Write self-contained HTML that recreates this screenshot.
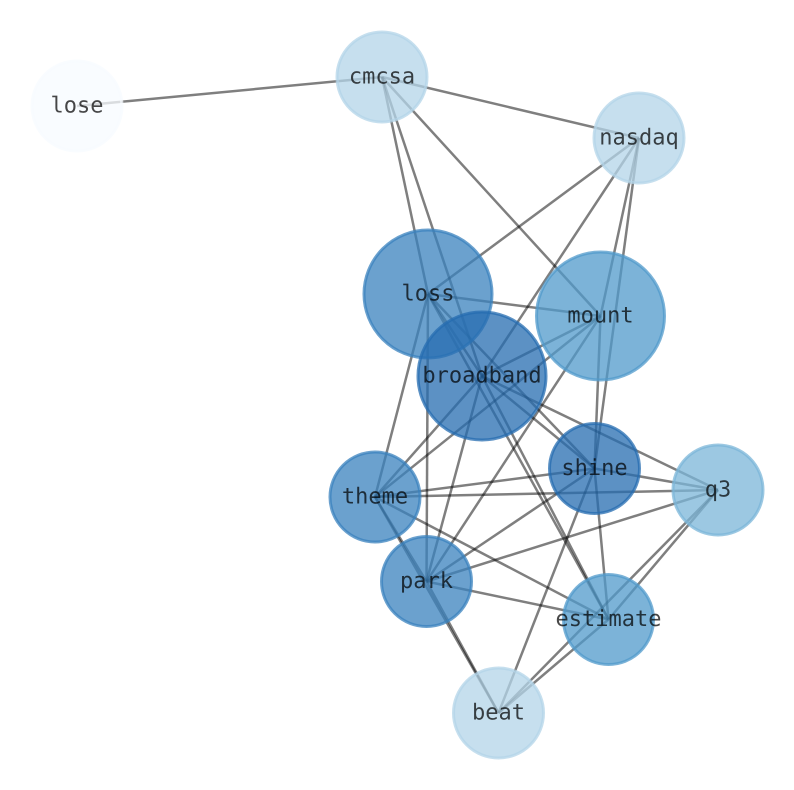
<!DOCTYPE html>
<html>
<head>
<meta charset="utf-8">
<style>
html,body{margin:0;padding:0;background:#fff;width:794px;height:790px;overflow:hidden}
svg{display:block}
text{font-family:"DejaVu Sans Mono","Liberation Mono",monospace;font-size:22px;fill:#000;fill-opacity:.72;text-anchor:middle;dominant-baseline:central;text-rendering:geometricPrecision}
.e line{stroke:#000;stroke-opacity:.5;stroke-width:2.5}
.n circle{fill-opacity:.75;stroke-opacity:.75;stroke-width:3}
</style>
</head>
<body>
<svg width="794" height="790" viewBox="0 0 794 790" xmlns="http://www.w3.org/2000/svg">
<g class="e">
<line x1="77" y1="106" x2="382" y2="77"/>
<line x1="382" y1="77" x2="639" y2="138"/>
<line x1="382" y1="77" x2="428" y2="294"/>
<line x1="382" y1="77" x2="482" y2="376"/>
<line x1="382" y1="77" x2="600.5" y2="316"/>
<line x1="639" y1="138" x2="428" y2="294"/>
<line x1="639" y1="138" x2="482" y2="376"/>
<line x1="639" y1="138" x2="600.5" y2="316"/>
<line x1="639" y1="138" x2="594.5" y2="468.5"/>
<line x1="428" y1="294" x2="600.5" y2="316"/>
<line x1="428" y1="294" x2="482" y2="376"/>
<line x1="428" y1="294" x2="375" y2="497"/>
<line x1="428" y1="294" x2="426.5" y2="581.5"/>
<line x1="428" y1="294" x2="594.5" y2="468.5"/>
<line x1="428" y1="294" x2="608.5" y2="619.5"/>
<line x1="600.5" y1="316" x2="482" y2="376"/>
<line x1="600.5" y1="316" x2="375" y2="497"/>
<line x1="600.5" y1="316" x2="426.5" y2="581.5"/>
<line x1="600.5" y1="316" x2="594.5" y2="468.5"/>
<line x1="482" y1="376" x2="375" y2="497"/>
<line x1="482" y1="376" x2="426.5" y2="581.5"/>
<line x1="482" y1="376" x2="594.5" y2="468.5"/>
<line x1="482" y1="376" x2="718" y2="490"/>
<line x1="482" y1="376" x2="608.5" y2="619.5"/>
<line x1="594.5" y1="468.5" x2="718" y2="490"/>
<line x1="594.5" y1="468.5" x2="375" y2="497"/>
<line x1="594.5" y1="468.5" x2="426.5" y2="581.5"/>
<line x1="594.5" y1="468.5" x2="608.5" y2="619.5"/>
<line x1="594.5" y1="468.5" x2="498.5" y2="713"/>
<line x1="718" y1="490" x2="375" y2="497"/>
<line x1="718" y1="490" x2="426.5" y2="581.5"/>
<line x1="718" y1="490" x2="608.5" y2="619.5"/>
<line x1="718" y1="490" x2="498.5" y2="713"/>
<line x1="375" y1="497" x2="608.5" y2="619.5"/>
<line x1="375" y1="497" x2="498.5" y2="713"/>
<line x1="375" y1="497" x2="426.5" y2="581.5"/>
<line x1="426.5" y1="581.5" x2="608.5" y2="619.5"/>
<line x1="426.5" y1="581.5" x2="498.5" y2="713"/>
<line x1="608.5" y1="619.5" x2="498.5" y2="713"/>
</g>
<g class="n">
<circle cx="77" cy="106" r="45" fill="#f7fbff" stroke="#f7fbff"/>
<circle cx="382" cy="77" r="45" fill="#b3d4e8" stroke="#b3d4e8"/>
<circle cx="639" cy="138" r="45" fill="#b3d4e8" stroke="#b3d4e8"/>
<circle cx="428" cy="294" r="64" fill="#3a82bd" stroke="#3a82bd"/>
<circle cx="600.5" cy="316" r="64" fill="#5099cb" stroke="#5099cb"/>
<circle cx="482" cy="376" r="64" fill="#266cb0" stroke="#266cb0"/>
<circle cx="594.5" cy="468.5" r="45" fill="#266cb0" stroke="#266cb0"/>
<circle cx="718" cy="490" r="45" fill="#7bb6d8" stroke="#7bb6d8"/>
<circle cx="375" cy="497" r="45" fill="#3a82bd" stroke="#3a82bd"/>
<circle cx="426.5" cy="581.5" r="45" fill="#3a82bd" stroke="#3a82bd"/>
<circle cx="608.5" cy="619.5" r="45" fill="#5099cb" stroke="#5099cb"/>
<circle cx="498.5" cy="713" r="45" fill="#b3d4e8" stroke="#b3d4e8"/>
</g>
<g>
<text x="77" y="106">lose</text>
<text x="382" y="77">cmcsa</text>
<text x="639" y="138">nasdaq</text>
<text x="428" y="294">loss</text>
<text x="600.5" y="316">mount</text>
<text x="482" y="376">broadband</text>
<text x="594.5" y="468.5">shine</text>
<text x="718" y="490">q3</text>
<text x="375" y="497">theme</text>
<text x="426.5" y="581.5">park</text>
<text x="608.5" y="619.5">estimate</text>
<text x="498.5" y="713">beat</text>
</g>
</svg>
</body>
</html>
